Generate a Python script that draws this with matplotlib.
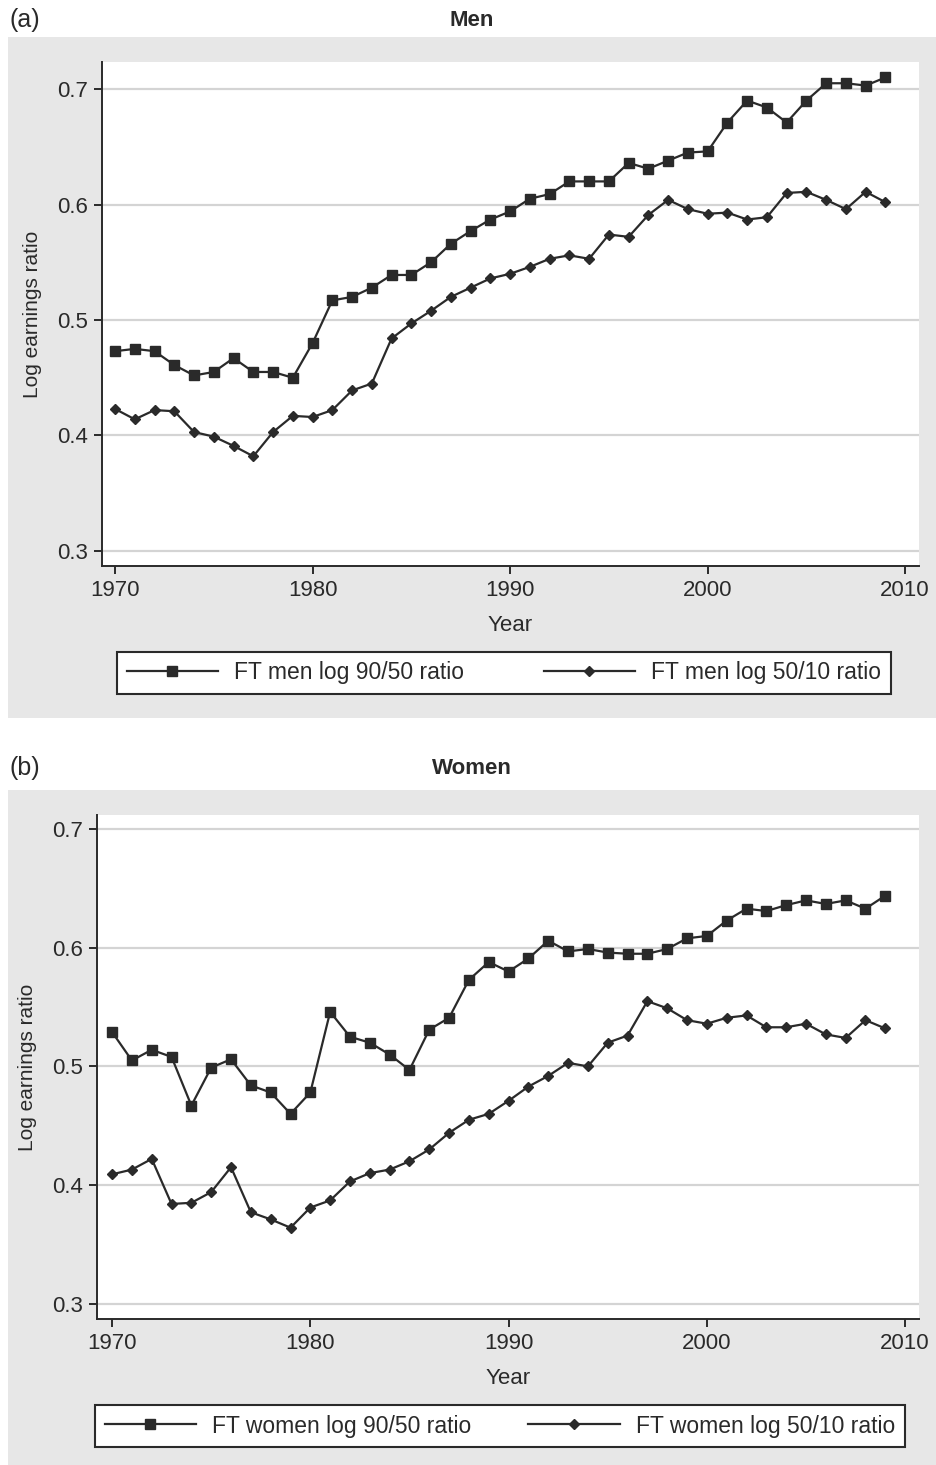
import matplotlib
matplotlib.use("Agg")
import matplotlib.pyplot as plt
from matplotlib.patches import Rectangle

plt.rcParams['font.family'] = ['Liberation Sans', 'DejaVu Sans']

# === DATA ===
years = list(range(1970, 2010))

men_90_50 = [0.473, 0.475, 0.473, 0.461, 0.452, 0.455, 0.467, 0.455, 0.455, 0.450,
             0.480, 0.517, 0.520, 0.528, 0.539, 0.539, 0.550, 0.566, 0.577, 0.587,
             0.594, 0.605, 0.609, 0.620, 0.620, 0.620, 0.636, 0.631, 0.638, 0.645,
             0.646, 0.671, 0.690, 0.684, 0.671, 0.690, 0.705, 0.705, 0.703, 0.710]
men_50_10 = [0.423, 0.414, 0.422, 0.421, 0.403, 0.399, 0.391, 0.382, 0.403, 0.417,
             0.416, 0.422, 0.439, 0.445, 0.484, 0.497, 0.508, 0.520, 0.528, 0.536,
             0.540, 0.546, 0.553, 0.556, 0.553, 0.574, 0.572, 0.591, 0.604, 0.596,
             0.592, 0.593, 0.587, 0.589, 0.610, 0.611, 0.604, 0.596, 0.611, 0.602]

women_90_50 = [0.529, 0.505, 0.514, 0.508, 0.467, 0.499, 0.506, 0.484, 0.478, 0.460,
               0.478, 0.546, 0.525, 0.520, 0.510, 0.497, 0.531, 0.541, 0.573, 0.588,
               0.580, 0.591, 0.606, 0.597, 0.599, 0.596, 0.595, 0.595, 0.599, 0.608,
               0.610, 0.623, 0.633, 0.631, 0.636, 0.640, 0.637, 0.640, 0.633, 0.644]
women_50_10 = [0.409, 0.413, 0.422, 0.384, 0.385, 0.394, 0.415, 0.377, 0.371, 0.364,
               0.381, 0.387, 0.403, 0.410, 0.413, 0.420, 0.430, 0.444, 0.455, 0.460,
               0.471, 0.483, 0.492, 0.503, 0.500, 0.520, 0.526, 0.555, 0.549, 0.539,
               0.536, 0.541, 0.543, 0.533, 0.533, 0.536, 0.527, 0.524, 0.539, 0.532]

panel_titles = ["Men", "Women"]
panel_tags = ["(a)", "(b)"]
legend_labels = [["FT men log 90/50 ratio", "FT men log 50/10 ratio"],
                 ["FT women log 90/50 ratio", "FT women log 50/10 ratio"]]
yticks = [0.3, 0.4, 0.5, 0.6, 0.7]
xticks = [1970, 1980, 1990, 2000, 2010]

# === FIGURE ===
W, H = 937, 1465
fig = plt.figure(figsize=(W / 100, H / 100), dpi=100)
fig.patch.set_facecolor('white')

BG = '#e7e7e7'
INK = '#2a2a2a'
FS = 16


def px_rect(x0, y0, x1, y1):
    """pixel box (top-left origin) -> figure fraction [l, b, w, h]"""
    return [x0 / W, 1 - y1 / H, (x1 - x0) / W, (y1 - y0) / H]


def draw_panel(i, series_a, series_b, gray_box, ax_box, leg_box, ylim, xlim, title_y):
    # gray graph region behind the plot
    l, b, w, h = px_rect(*gray_box)
    fig.patches.append(Rectangle((l, b), w, h, transform=fig.transFigure,
                                 facecolor=BG, edgecolor='none', zorder=-5))
    fig.text(10 / W, 1 - title_y / H, panel_tags[i], fontsize=18, color=INK,
             ha='left', va='center')
    fig.text(472 / W, 1 - title_y / H, panel_titles[i], fontsize=16, color=INK,
             ha='center', va='center', fontweight='bold')

    ax = fig.add_axes(px_rect(*ax_box))
    ax.set_facecolor('white')
    ln1, = ax.plot(years, series_a, color=INK, lw=1.6, marker='s', ms=7.5,
                   label=legend_labels[i][0], zorder=3)
    ln2, = ax.plot(years, series_b, color=INK, lw=1.6, marker='D', ms=5.2,
                   label=legend_labels[i][1], zorder=3)

    ax.set_ylim(*ylim)
    ax.set_xlim(*xlim)
    ax.set_yticks(yticks)
    ax.set_xticks(xticks)
    ax.grid(axis='y', color='#d4d4d4', lw=1.6)
    ax.set_axisbelow(True)
    for s in ['top', 'right']:
        ax.spines[s].set_visible(False)
    for s in ['left', 'bottom']:
        ax.spines[s].set_color(INK)
        ax.spines[s].set_linewidth(1.4)
    ax.tick_params(direction='out', length=6, width=1.4, color=INK,
                   labelsize=FS, labelcolor=INK, pad=4)
    ax.set_xlabel("Year", fontsize=FS, color=INK, labelpad=10)
    ax.set_ylabel("Log earnings ratio", fontsize=15, color=INK, labelpad=11)

    lb = px_rect(*leg_box)
    leg = fig.legend(handles=[ln1, ln2], loc='center', ncol=2, mode='expand',
                     bbox_to_anchor=lb, bbox_transform=fig.transFigure,
                     borderaxespad=0, fontsize=16.5, handlelength=4.0,
                     columnspacing=2.0, handletextpad=0.7, numpoints=1,
                     fancybox=False, framealpha=1, borderpad=0.42)
    leg.get_frame().set_edgecolor(INK)
    leg.get_frame().set_linewidth(1.5)
    for t in leg.get_texts():
        t.set_color(INK)
    return ax


draw_panel(0, men_90_50, men_50_10,
           gray_box=(8, 37, 937, 718), ax_box=(102, 62, 919, 566),
           leg_box=(117, 651, 891, 695),
           ylim=(0.287, 0.7234), xlim=(1969.34, 2010.7), title_y=20)

draw_panel(1, women_90_50, women_50_10,
           gray_box=(8, 790, 937, 1465), ax_box=(97, 815, 919, 1319),
           leg_box=(95, 1404, 905, 1448),
           ylim=(0.287, 0.712), xlim=(1969.24, 2010.7), title_y=768)

fig.savefig("out.png", dpi=100, facecolor=fig.get_facecolor())
